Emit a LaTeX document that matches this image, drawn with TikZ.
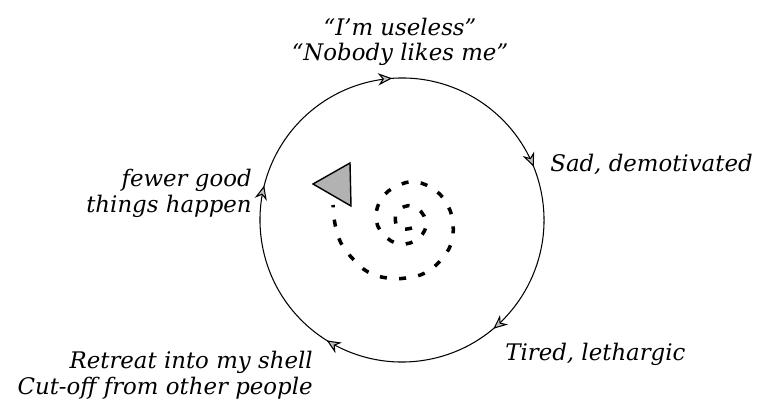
\documentclass[tikz,border=0pt]{standalone}
\usepackage{fontspec}
\setmainfont{DejaVu Serif}
\usetikzlibrary{arrows.meta, decorations.markings}
\tikzset{
  thought/.style={font=\itshape\fontsize{13}{14.5}\selectfont, inner sep=0pt},
  cycletip/.style={decoration={markings, mark=between positions 0.0167 and 1 step 0.2 with {\arrow{Stealth[length=8pt,width=7pt,fill=gray!50]}}}, postaction={decorate}},
}

\begin{document}
\begin{tikzpicture}
    \useasboundingbox (0,0) rectangle (15.34,8.14);
    \coordinate (c) at (8.04,3.74);
    \draw[line width=0.6pt, cycletip] (c) ++(100:2.84) arc[start angle=100, end angle=-260, radius=2.84];
    \node[thought, align=center] (useless) at (8.0,7.30) {“I'm useless”\\“Nobody likes me”};
    \node[thought, anchor=west] (sad) at (11.0,4.86) {Sad, demotivated};
    \node[thought, anchor=west] (tired) at (10.1,1.06) {Tired, lethargic};
    \node[thought, anchor=east, align=right] (retreat) at (6.26,0.64) {Retreat into my shell\\Cut-off from other people};
    \node[thought, anchor=east, align=right] (fewer) at (5.04,4.27) {fewer good\\things happen};
    \draw[line width=2pt, dash pattern=on 4pt off 7pt] plot[smooth, tension=0.7] coordinates {
        (8.24,3.58) (7.96,3.58) (7.94,3.90) (8.26,4.02) (8.52,3.72) (8.38,3.38)
        (8.00,3.26) (7.66,3.46) (7.52,3.80) (7.64,4.18) (7.94,4.42) (8.32,4.50)
        (8.72,4.32) (8.96,4.02) (9.06,3.66) (9.02,3.26) (8.80,2.92) (8.50,2.68)
        (8.12,2.58) (7.74,2.58) (7.36,2.70) (7.06,2.96) (6.82,3.28) (6.70,3.66)
        (6.66,4.04)};
    \filldraw[fill=gray!60, line width=0.8pt] (6.26,4.46) -- (7.00,4.88) -- (7.02,4.02) -- cycle;
\end{tikzpicture}
\end{document}
